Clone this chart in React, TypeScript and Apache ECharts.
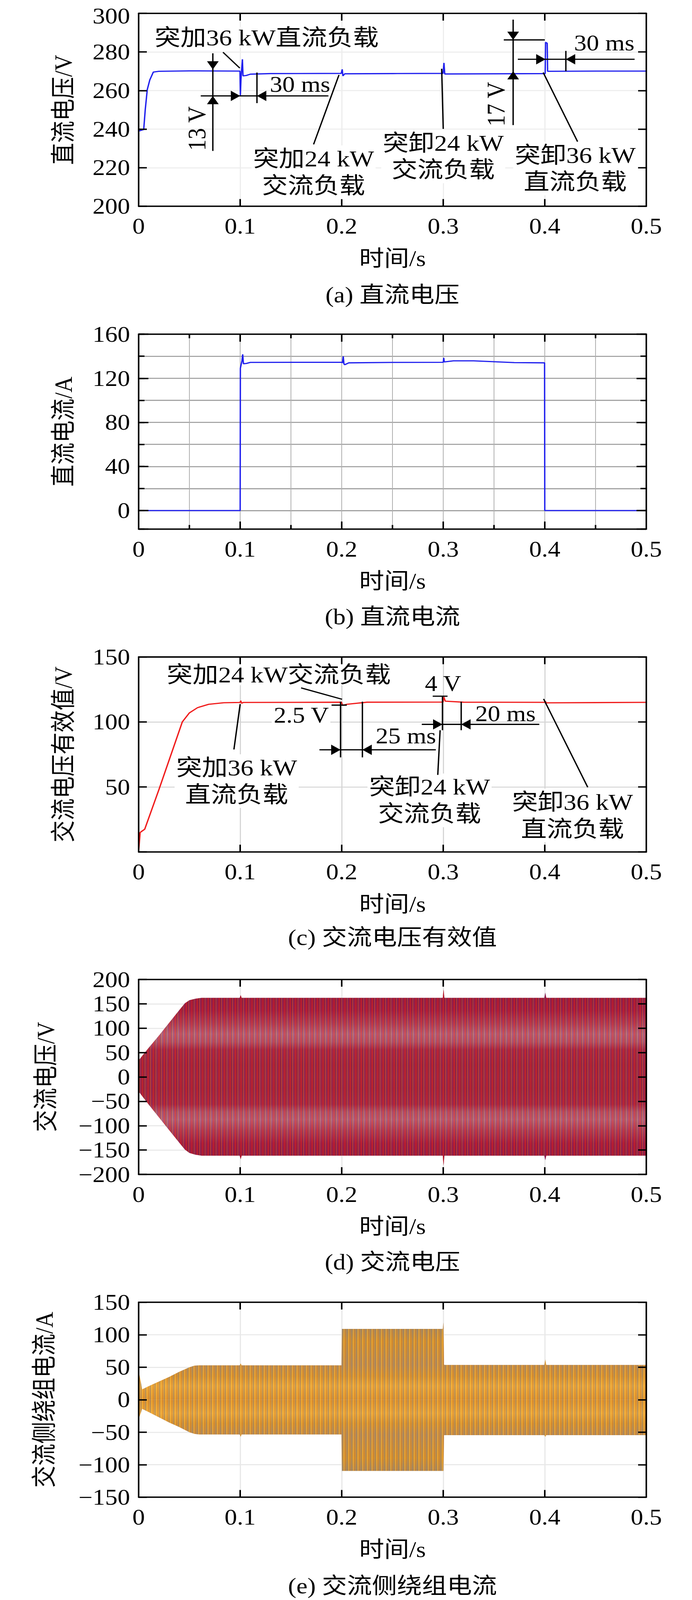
import { useEffect, useRef } from 'react'
import * as echarts from 'echarts'

// ---- values (time in s) ----

// (a) 直流电压 / V
const dcVoltageTime = [0, 0.002, 0.005, 0.0065, 0.0085, 0.011, 0.0145, 0.02, 0.05, 0.0998, 0.1002, 0.1008, 0.1022, 0.1028, 0.106, 0.11, 0.13, 0.1995, 0.2005, 0.2012, 0.203, 0.25, 0.2998, 0.3007, 0.3015, 0.35, 0.4004, 0.4008, 0.4024, 0.4028, 0.45, 0.5]
const dcVoltageValue = [239, 239.3, 239.8, 250, 260.5, 265.5, 269.6, 270, 270.2, 270.1, 257.3, 266, 276.2, 267.6, 267.8, 268.5, 268.8, 268.9, 271, 267.6, 268.7, 268.8, 268.9, 274.3, 268.6, 268.7, 268.8, 285, 284.5, 270, 270.1, 270.1]

// (b) 直流电流 / A
const dcCurrentTime = [0, 0.1, 0.1002, 0.1018, 0.1025, 0.1032, 0.106, 0.11, 0.2, 0.2008, 0.2015, 0.2022, 0.203, 0.207, 0.25, 0.3, 0.3005, 0.301, 0.31, 0.33, 0.35, 0.37, 0.3998, 0.4, 0.5]
const dcCurrentValue = [0, 0, 129, 136, 141.7, 133.2, 133.4, 134.4, 134.5, 134, 139.8, 133, 132.3, 134, 134.4, 134.5, 138.5, 134.8, 135.8, 135.8, 135, 134.2, 134, 0, 0]

// (c) 交流电压有效值 / V
const acRmsTime = [0, 0.0015, 0.006, 0.02, 0.043, 0.05, 0.058, 0.069, 0.084, 0.0998, 0.1006, 0.1014, 0.103, 0.1998, 0.2008, 0.205, 0.225, 0.2998, 0.3006, 0.302, 0.32, 0.3998, 0.4006, 0.4014, 0.5]
const acRmsValue = [0.5, 15, 17.5, 48, 100, 107, 111, 113.6, 114.8, 115, 116.3, 114.4, 115, 115.2, 112.8, 113.6, 115.2, 115.3, 119.2, 116, 115.2, 115.1, 115.9, 114.7, 115.1]

// (d) 交流电压 — envelope of the three phase waveforms / V
const acVoltageTime = [0, 0.01, 0.02, 0.03, 0.04, 0.0455, 0.05, 0.0558, 0.062, 0.0995, 0.1005, 0.1015, 0.2995, 0.3003, 0.3012, 0.3995, 0.4005, 0.4015, 0.5]
const acVoltageUpper = [34, 60, 85, 111, 137, 151, 157.5, 160.5, 162.3, 162.3, 168, 162.3, 162.3, 180, 162.3, 162.3, 173, 162.3, 162.3]
const acVoltageLower = [-30, -57, -83, -109, -135, -149, -156, -159.5, -161.5, -161.5, -169, -161.5, -161.5, -182, -161.5, -161.5, -171, -161.5, -161.5]

// (e) 交流侧绕组电流 — envelope / A
const windingTime = [0, 0.0035, 0.01, 0.02, 0.03, 0.04, 0.05, 0.055, 0.06, 0.0995, 0.1005, 0.1015, 0.1998, 0.2002, 0.2995, 0.3002, 0.3008, 0.3015, 0.3995, 0.4005, 0.4015, 0.5]
const windingUpper = [45, 16, 21, 28, 35, 43, 50, 52.5, 53, 53, 56, 53, 53, 109, 109, 119, 54, 53.5, 53.5, 62, 53.5, 53.5]
const windingLower = [-30, -14, -19, -27, -35, -42, -50, -52.5, -53.5, -53.5, -57, -53.5, -53.5, -109.5, -109.5, -109.5, -54.5, -54.5, -54.5, -57, -54.5, -54.5]

const yNames = ['直流电压/V', '直流电流/A', '交流电压有效值/V', '交流电压/V', '交流侧绕组电流/A']
const captions = ['(a) 直流电压', '(b) 直流电流', '(c) 交流电压有效值', '(d) 交流电压', '(e) 交流侧绕组电流']
const xName = '时间/s'

// ---- layout ----
const PAGE_W = 1772
const PAGE_H = 4654
const FONT = "'Liberation Serif', 'Noto Sans CJK SC', serif"
const PLOT_LEFT = 355
const PLOT_WIDTH = 1300
const PLOT_HEIGHT = 567
const PANEL_TOPS = [33, 972, 1911, 2849, 3788]
const CAPTION_Y = [858, 1794, 2727, 3671, 4613]
const NAME_GAPS = [165, 165, 165, 210, 214]

const zip = (t: number[], v: number[]) => t.map((x, i) => [x, v[i]])

const border = { show: true, onZero: false, lineStyle: { color: '#000', width: 4 } }
const noLine = { show: false, onZero: false }
const tick = (length: number) => ({ show: true, inside: true, length, lineStyle: { color: '#000', width: 4 } })
const textBase = { fontFamily: FONT, fontSize: 64, color: '#000', lineHeight: 56 }

const xFmt = (v: number) =>
  Math.abs(v * 10 - Math.round(v * 10)) < 1e-6 ? String(Math.round(v * 10) / 10) : ''

function yFmt(step: number, hideZero: boolean, topValue?: number) {
  return (v: number) => {
    if (Math.abs(v % step) > 1e-6) return ''
    if (hideZero && v === 0) return ''
    const s = String(v).replace('-', '−')
    // the top label of the first panel sits against the page edge: nudge it down a little
    return topValue !== undefined && v === topValue ? `{edge|${s}}` : s
  }
}

interface PanelAxis {
  y: Record<string, number>
  labelStep: number
  hideZero?: boolean
  xStep: number
  xTick: number
  yTick: number
  hLine: { color: string; width: number }
  vLine: { color: string; width: number }
}

const panelAxes: PanelAxis[] = [
  { y: { min: 200, max: 300, interval: 20 }, labelStep: 20, xStep: 0.1, xTick: 21, yTick: 21, hLine: { color: '#ededed', width: 3 }, vLine: { color: '#ededed', width: 3 } },
  { y: { min: -16.8, max: 160, minInterval: 20, maxInterval: 20, splitNumber: 9 }, labelStep: 40, xStep: 0.05, xTick: 12, yTick: 15, hLine: { color: '#9a9a9a', width: 3 }, vLine: { color: '#b0b0b0', width: 2 } },
  { y: { min: 0, max: 150, interval: 50 }, labelStep: 50, hideZero: true, xStep: 0.1, xTick: 21, yTick: 21, hLine: { color: '#d6d6d6', width: 3 }, vLine: { color: '#d6d6d6', width: 3 } },
  { y: { min: -200, max: 200, interval: 50 }, labelStep: 50, xStep: 0.1, xTick: 21, yTick: 21, hLine: { color: '#e8e8e8', width: 3 }, vLine: { color: '#e8e8e8', width: 3 } },
  { y: { min: -150, max: 150, interval: 50 }, labelStep: 50, xStep: 0.1, xTick: 21, yTick: 21, hLine: { color: '#e8e8e8', width: 3 }, vLine: { color: '#e8e8e8', width: 3 } }
]

// ---- annotation helpers (pixel layout) ----
function seg(x1: number, y1: number, x2: number, y2: number, w = 3.5) {
  return { type: 'line', z: 60, shape: { x1, y1, x2, y2 }, style: { stroke: '#000', lineWidth: w } }
}

function head(x: number, y: number, dir: 'up' | 'down' | 'left' | 'right', len = 24, half = 15) {
  let points: number[][]
  if (dir === 'down') points = [[x, y], [x - half, y - len], [x + half, y - len]]
  else if (dir === 'up') points = [[x, y], [x - half, y + len], [x + half, y + len]]
  else if (dir === 'right') points = [[x, y], [x - len, y - half], [x - len, y + half]]
  else points = [[x, y], [x + len, y - half], [x + len, y + half]]
  return { type: 'polygon', z: 60, shape: { points }, style: { fill: '#000' } }
}

function note(x: number, y: number, text: string, align = 'left', bg = false, rotation = 0, size = 66) {
  const multi = text.includes('\n')
  return {
    type: 'text',
    z: 55,
    x,
    y,
    rotation,
    style: {
      text,
      align,
      verticalAlign: 'middle',
      fontFamily: FONT,
      fontSize: size,
      lineHeight: multi ? 78 : 60,
      fill: '#000',
      backgroundColor: bg ? '#fff' : 'transparent',
      padding: bg ? [0, 4] : 0
    }
  }
}

function annotations() {
  const a = [
    note(392, 109, '突加36 kW直流负载', 'left', true),
    seg(571, 152, 614, 198),
    seg(545, 155, 545, 439), head(545, 202, 'down'), head(545, 279, 'up'),
    note(504, 374, '13 V', 'center', false, Math.PI / 2),
    seg(514, 279, 841, 279), head(615, 279, 'right'), head(658, 279, 'left'), seg(658, 211, 658, 300),
    note(691, 245, '30 ms', 'left', false, 0, 64),
    seg(868, 218, 803, 420),
    note(803, 501, '突加24 kW\n交流负载', 'center', true),
    seg(1131, 200, 1135, 375),
    note(1135, 455, '突卸24 kW\n交流负载', 'center', true),
    seg(1314, 57, 1314, 364), head(1314, 116, 'down'), head(1314, 207, 'up'), seg(1290, 116, 1395, 116),
    note(1270, 303, '17 V', 'center', false, Math.PI / 2),
    seg(1326, 172.5, 1625, 172.5), head(1397, 172.5, 'right'), head(1449, 172.5, 'left'), seg(1449, 148, 1449, 207),
    note(1470, 125, '30 ms', 'left', false, 0, 64),
    seg(1391, 211, 1479, 412),
    note(1473, 490, '突卸36 kW\n直流负载', 'center', true)
  ]
  const c = [
    note(423, 1963, '突加24 kW交流负载', 'left', true),
    seg(771, 2001, 876, 2034),
    note(846, 2080, '2.5 V', 'right', true, 0, 64),
    seg(849, 2051, 888, 2051),
    seg(872, 2041, 872, 2203), seg(928, 2041, 928, 2203),
    seg(818, 2181, 1116, 2181), head(872, 2181, 'right'), head(928, 2181, 'left'),
    note(962, 2141, '25 ms', 'left', false, 0, 64),
    note(1088, 1988, '4 V', 'left', false, 0, 64),
    seg(1108, 2025, 1146, 2025),
    seg(1133, 2025, 1133, 2124), seg(1181, 2041, 1181, 2124),
    seg(1080, 2107, 1381, 2107), head(1133, 2107, 'right'), head(1181, 2107, 'left'),
    note(1217, 2076, '20 ms', 'left', false, 0, 64),
    seg(1127, 2124, 1121, 2254),
    note(1100, 2328, '突卸24 kW\n交流负载', 'center', true),
    seg(599, 2180, 615, 2048),
    note(606, 2272, '突加36 kW\n直流负载', 'center', true),
    seg(1505, 2290, 1392, 2033),
    note(1466, 2372, '突卸36 kW\n直流负载', 'center', true)
  ]
  const caps = captions.map((t, i) => ({
    type: 'text',
    z: 55,
    x: PLOT_LEFT + PLOT_WIDTH / 2,
    y: CAPTION_Y[i],
    style: { text: t, align: 'center', verticalAlign: 'middle', fontFamily: FONT, fontSize: 64, lineHeight: 60, fill: '#000' }
  }))
  return [...a, ...c, ...caps]
}

function stripeTile(stripes: Array<[string, number]>, h = 8) {
  const w = stripes.reduce((s, [, n]) => s + n, 0)
  const canvas = document.createElement('canvas')
  canvas.width = w
  canvas.height = h
  const ctx = canvas.getContext('2d')
  let x = 0
  if (ctx) {
    for (const [col, n] of stripes) {
      ctx.fillStyle = col
      ctx.fillRect(x, 0, n, h)
      x += n
    }
  }
  return { image: canvas, repeat: 'repeat', imageWidth: w, imageHeight: h }
}

function vGradient(top: number, stops: Array<[number, string]>) {
  return new echarts.graphic.LinearGradient(
    0, top, 0, top + PLOT_HEIGHT,
    stops.map(([offset, color]) => ({ offset, color })),
    true
  )
}

function bandSeries(x: number, y: number, t: number[], hi: number[], lo: number[], base: any, overlay: any) {
  const mk = (data: number[], fill: any) => ({
    type: 'line',
    xAxisIndex: x,
    yAxisIndex: y,
    data: zip(t, data),
    showSymbol: false,
    silent: true,
    z: 2,
    lineStyle: { width: 0, opacity: 0 },
    itemStyle: { color: '#a02850' },
    areaStyle: { color: fill, opacity: 1 }
  })
  return [mk(hi, base), mk(lo, base), mk(hi, overlay), mk(lo, overlay)]
}

function buildOption() {
  const grids: any[] = []
  const xAxes: any[] = []
  const yAxes: any[] = []
  const mainX: number[] = []
  const mainY: number[] = []

  panelAxes.forEach((p, i) => {
    grids.push({ left: PLOT_LEFT, top: PANEL_TOPS[i], width: PLOT_WIDTH, height: PLOT_HEIGHT })
    const xBase = { type: 'value', gridIndex: i, min: 0, max: 0.5, interval: p.xStep }
    const yBase = { type: 'value', gridIndex: i, ...p.y }

    // grid lines, drawn beneath the curves
    xAxes.push({ ...xBase, position: 'bottom', z: 0, axisLine: noLine, axisTick: { show: false }, axisLabel: { show: false }, splitLine: { show: true, lineStyle: p.vLine } })
    yAxes.push({ ...yBase, position: 'left', z: 0, axisLine: noLine, axisTick: { show: false }, axisLabel: { show: false }, splitLine: { show: true, lineStyle: p.hLine } })

    mainX.push(xAxes.length)
    xAxes.push({
      ...xBase, position: 'bottom', z: 4, axisLine: border, axisTick: tick(p.xTick), splitLine: { show: false },
      axisLabel: { ...textBase, margin: 30, formatter: xFmt, showMinLabel: true, showMaxLabel: true },
      name: xName, nameLocation: 'middle', nameGap: 124, nameTextStyle: textBase
    })
    mainY.push(yAxes.length)
    yAxes.push({
      ...yBase, position: 'left', z: 4, axisLine: border, axisTick: tick(p.yTick), splitLine: { show: false },
      axisLabel: {
        ...textBase,
        margin: 22,
        formatter: yFmt(p.labelStep, !!p.hideZero, i === 0 ? p.y.max : undefined),
        showMinLabel: true,
        showMaxLabel: true,
        rich: { edge: { fontFamily: FONT, fontSize: 64, color: '#000', lineHeight: 56, padding: [14, 0, 0, 0] } }
      },
      name: yNames[i], nameLocation: 'middle', nameGap: NAME_GAPS[i], nameTextStyle: textBase
    })
    xAxes.push({ ...xBase, position: 'top', z: 4, axisLine: border, axisTick: tick(p.xTick), axisLabel: { show: false }, splitLine: { show: false } })
    yAxes.push({ ...yBase, position: 'right', z: 4, axisLine: border, axisTick: tick(p.yTick), axisLabel: { show: false }, splitLine: { show: false } })

    if (p.labelStep === 40) {
      // longer ticks at the labelled values of panel (b)
      const xMajor = { type: 'value', gridIndex: i, min: 0, max: 0.5, interval: 0.1, z: 4, axisLine: noLine, axisTick: tick(22), axisLabel: { show: false }, splitLine: { show: false } }
      const yMajor = { ...yBase, minInterval: 40, maxInterval: 40, splitNumber: 4, z: 4, axisLine: noLine, axisTick: tick(25), axisLabel: { show: false }, splitLine: { show: false } }
      xAxes.push({ ...xMajor, position: 'bottom' }, { ...xMajor, position: 'top' })
      yAxes.push({ ...yMajor, position: 'left' }, { ...yMajor, position: 'right' })
    }
  })

  const dLineStripes = stripeTile([
    ['rgba(232,30,30,0.55)', 3], ['rgba(0,0,0,0)', 1], ['rgba(110,20,70,0.4)', 2], ['rgba(238,112,40,0.45)', 2],
    ['rgba(0,0,0,0)', 1], ['rgba(110,60,170,0.25)', 2], ['rgba(200,20,40,0.45)', 2], ['rgba(0,0,0,0)', 1]
  ])
  const eLineStripes = stripeTile([
    ['rgba(105,120,138,0.5)', 2], ['rgba(0,0,0,0)', 2], ['rgba(245,190,60,0.5)', 2], ['rgba(0,0,0,0)', 1],
    ['rgba(196,104,28,0.35)', 2], ['rgba(0,0,0,0)', 1], ['rgba(120,128,135,0.35)', 1], ['rgba(0,0,0,0)', 1]
  ])

  const dBase = vGradient(PANEL_TOPS[3], [
    [0, '#8a1c40'], [0.095, '#8a1c40'], [0.16, '#961f42'], [0.225, '#a64860'], [0.28, '#b47488'],
    [0.32, '#ac6478'], [0.36, '#9a2c48'], [0.44, '#94263f'], [0.5, '#962842'],
    [0.56, '#94263f'], [0.64, '#9a2c48'], [0.68, '#ac6478'], [0.72, '#b47488'], [0.775, '#a64860'],
    [0.84, '#961f42'], [0.905, '#8a1c40'], [1, '#8a1c40']
  ])
  const eBase = vGradient(PANEL_TOPS[4], [
    [0, '#c9903e'], [0.13, '#b88a50'], [0.2, '#d8922e'], [0.32, '#c88e48'], [0.38, '#dc942e'],
    [0.43, '#f0aa3c'], [0.5, '#e2942c'], [0.57, '#f0aa3c'], [0.62, '#dc942e'], [0.68, '#c88e48'],
    [0.8, '#d8922e'], [0.87, '#b88a50'], [1, '#c9903e']
  ])

  const series: any[] = [
    {
      type: 'line', xAxisIndex: mainX[0], yAxisIndex: mainY[0], data: zip(dcVoltageTime, dcVoltageValue),
      showSymbol: false, z: 3, lineStyle: { color: '#2020ee', width: 3.5 }, itemStyle: { color: '#2020ee' }
    },
    {
      type: 'line', xAxisIndex: mainX[1], yAxisIndex: mainY[1], data: zip(dcCurrentTime, dcCurrentValue),
      showSymbol: false, z: 3, lineStyle: { color: '#2020ee', width: 3.5 }, itemStyle: { color: '#2020ee' }
    },
    {
      type: 'line', xAxisIndex: mainX[2], yAxisIndex: mainY[2], data: zip(acRmsTime, acRmsValue),
      showSymbol: false, z: 3, lineStyle: { color: '#f01c1c', width: 3.5 }, itemStyle: { color: '#f01c1c' }
    },
    ...bandSeries(mainX[3], mainY[3], acVoltageTime, acVoltageUpper, acVoltageLower, dBase, dLineStripes),
    ...bandSeries(mainX[4], mainY[4], windingTime, windingUpper, windingLower, eBase, eLineStripes)
  ]

  return {
    animation: false,
    backgroundColor: '#fff',
    grid: grids,
    xAxis: xAxes,
    yAxis: yAxes,
    series,
    graphic: { elements: annotations() }
  }
}

export default function App() {
  const chartRef = useRef<HTMLDivElement>(null)
  // the browser viewport may be shorter than the figure: squeeze the figure vertically to fit
  const viewH = typeof window !== 'undefined' && window.innerHeight > 0 ? window.innerHeight : PAGE_H
  const scaleY = Math.min(1, viewH / PAGE_H)

  useEffect(() => {
    const host = chartRef.current
    if (!host) return
    document.body.style.margin = '0'
    const chart = echarts.init(host, null, { renderer: 'svg', width: PAGE_W, height: PAGE_H })
    chart.setOption(buildOption() as any)
    return () => {
      chart.dispose()
    }
  }, [])

  return (
    <div style={{ width: PAGE_W, height: Math.floor(PAGE_H * scaleY), overflow: 'hidden', background: '#fff' }}>
      <div
        ref={chartRef}
        style={{ width: PAGE_W, height: PAGE_H, transform: `scale(1, ${scaleY})`, transformOrigin: '0 0' }}
      />
    </div>
  )
}
